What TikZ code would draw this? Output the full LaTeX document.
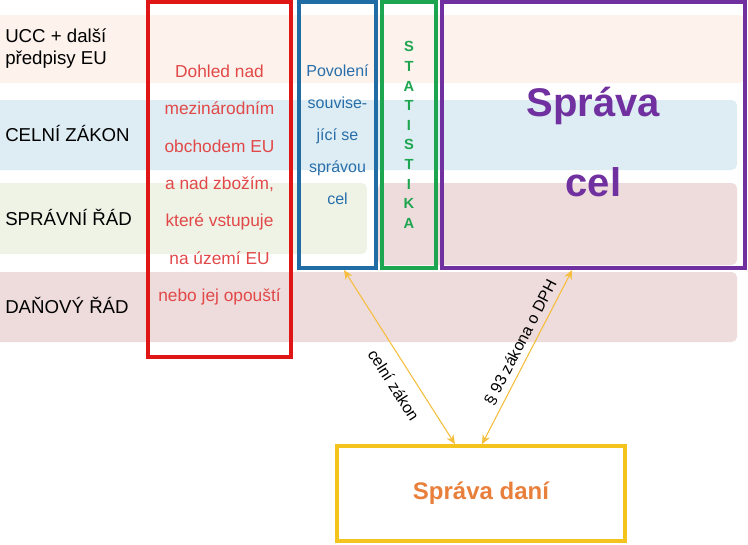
\documentclass[tikz,border=0pt]{standalone}
\usepackage{fontspec}
\setmainfont{Liberation Sans}
\usepackage{tikz}
\usetikzlibrary{positioning, arrows.meta, calc}
\definecolor{bandpeach}{RGB}{253,242,236}
\definecolor{bandblue}{RGB}{221,237,243}
\definecolor{bandgreen}{RGB}{238,243,230}
\definecolor{bandpink}{RGB}{238,219,220}
\definecolor{boxred}{RGB}{224,22,22}
\definecolor{textred}{RGB}{226,72,72}
\definecolor{boxblue}{RGB}{32,108,165}
\definecolor{textblue}{RGB}{40,110,170}
\definecolor{boxgreen}{RGB}{30,165,80}
\definecolor{boxpurple}{RGB}{112,48,160}
\definecolor{boxyellow}{RGB}{245,195,30}
\definecolor{textorange}{RGB}{232,128,60}
\definecolor{linkyellow}{RGB}{245,190,60}

\begin{document}
\begin{tikzpicture}[x=0.75pt, y=-0.75pt,
    band/.style={rounded corners=4pt},
    rowlabel/.style={anchor=west, align=left, inner sep=0pt, font=\fontsize{14}{16.5}\selectfont},
    colbox/.style={draw, line width=3pt, inner sep=0pt, align=center},
    link/.style={draw=linkyellow, line width=0.8pt, {Stealth[length=7pt,width=6pt]}-{Stealth[length=7pt,width=6pt]}},
    linklabel/.style={sloped, inner sep=0pt, font=\fontsize{12}{14}\selectfont}]
    \useasboundingbox (0,0) rectangle (748,544);
    % Rows
    \fill[band, bandpeach] (-6,15) rectangle (745,83);
    \fill[band, bandblue] (-6,100) rectangle (737,170);
    \fill[band, bandgreen] (-6,183) rectangle (367,254);
    \fill[band, bandpink] (378,183) rectangle (737,265);
    \fill[band, bandpink] (-6,272) rectangle (737,342);
    \node[rowlabel] (ucc) at (5,49) {UCC + další\\předpisy EU};
    \node[rowlabel] (celni) at (5,133) {CELNÍ ZÁKON};
    \node[rowlabel] (spravni) at (5,217) {SPRÁVNÍ ŘÁD};
    \node[rowlabel] (danovy) at (5,305) {DAŇOVÝ ŘÁD};
    % Columns
    \node[colbox, draw=boxred, minimum width=107pt, minimum height=266pt] (dohledbox) at (219.5,179.5) {};
    \node[align=center, text=textred, font=\fontsize{13}{28}\selectfont] (dohled) at (219.5,185) {Dohled nad\\mezinárodním\\obchodem EU\\a nad zbožím,\\které vstupuje\\na území EU\\nebo jej opouští};
    \node[colbox, draw=boxblue, text=textblue, minimum width=57.75pt, minimum height=199.5pt, font=\fontsize{12}{24}\selectfont] (povoleni) at (337.5,135) {Povolení\\souvise-\\jící se\\správou\\cel};
    \node[colbox, draw=boxgreen, text=boxgreen, minimum width=40.5pt, minimum height=199.5pt, font=\bfseries\fontsize{11}{14.7}\selectfont] (statistika) at (409,135) {S\\T\\A\\T\\I\\S\\T\\I\\K\\A};
    \node[colbox, draw=boxpurple, minimum width=227.25pt, minimum height=199.5pt] (spravabox) at (593.5,135) {};
    \node[align=center, text=boxpurple, font=\bfseries\fontsize{30}{60}\selectfont] (spravacel) at (593.5,142) {Správa\\cel};
    % Tax administration
    \node[colbox, draw=boxyellow, text=textorange, minimum width=216pt, minimum height=71pt, font=\bfseries\fontsize{18}{22}\selectfont] (dane) at (481,493.5) {Správa daní};
    % Links
    \draw[link] ([xshift=4.9pt]povoleni.south) -- node[linklabel, pos=0.6, below=10pt] {celní zákon} ([xshift=-19.5pt]dane.north);
    \draw[link] ([xshift=0.75pt]dane.north) -- node[linklabel, pos=0.55, above=4pt] {§ 93 zákona o DPH} ([xshift=-16pt]spravabox.south);
\end{tikzpicture}
\end{document}
